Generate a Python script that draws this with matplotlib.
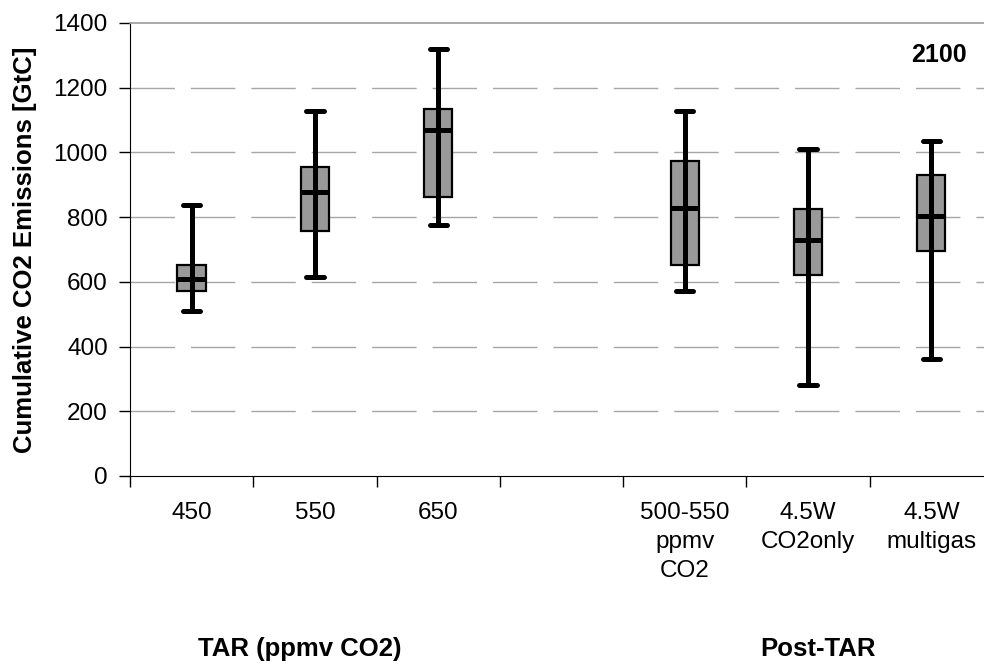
import matplotlib.pyplot as plt

plt.rcParams["font.family"] = ["Liberation Sans", "DejaVu Sans"]
plt.rcParams["lines.scale_dashes"] = False

# Box statistics (GtC), one entry per scenario
labels = ["450", "550", "650", "", "500-550\nppmv\nCO2", "4.5W\nCO2only", "4.5W\nmultigas"]
low = [511, 616, 776, None, 573, 281, 362]
q1 = [573, 758, 861, None, 652, 621, 696]
median = [608, 879, 1069, None, 829, 729, 803]
q3 = [652, 956, 1134, None, 973, 825, 930]
high = [837, 1128, 1320, None, 1128, 1011, 1035]

groups = ["TAR (ppmv CO2)", "Post-TAR"]
yticks = [0, 200, 400, 600, 800, 1000, 1200, 1400]

fig = plt.figure(figsize=(9.84, 6.66), dpi=100)
ax = fig.add_axes([0.1321, 0.2853, 0.877, 0.6802])

centers = [i + 0.5 for i in range(len(labels))]
box_w = 0.23
cap_w = 0.14

for x, lo, a, m, b, hi in zip(centers, low, q1, median, q3, high):
    if lo is None:
        continue
    ax.bar(x, b - a, bottom=a, width=box_w, color="#999999",
           edgecolor="black", linewidth=1.6, zorder=2)
    ax.vlines(x, lo, hi, color="black", linewidth=3.6, zorder=3)
    ax.hlines([lo, hi], x - cap_w / 2, x + cap_w / 2, color="black",
              linewidth=3.6, capstyle="round", zorder=3)
    ax.hlines(m, x - box_w / 2, x + box_w / 2, color="black",
              linewidth=3.6, zorder=4)

ax.set_xlim(0, 7)
ax.set_ylim(0, 1400)
ax.set_yticks(yticks)

# dashed gridlines (not at 0, top one is the frame)
for y in yticks[1:-1]:
    ax.axhline(y, color="#a6a6a6", linewidth=1.0, dashes=(32, 11.5),
               zorder=1)

ax.set_xticks(range(8))
ax.set_xticklabels([])
ax.set_xticks(centers, minor=True)
ax.set_xticklabels(labels, minor=True, fontsize=17.5, linespacing=1.4)
ax.tick_params(axis="x", which="major", direction="out", length=8,
               width=1, color="black")
ax.tick_params(axis="x", which="minor", length=0, pad=19)
ax.tick_params(axis="y", direction="out", length=8, width=1, pad=8,
               labelsize=17.5)

ax.spines["right"].set_visible(False)
ax.spines["top"].set_color("#999999")
ax.spines["top"].set_linewidth(1.2)
ax.spines["left"].set_color("black")
ax.spines["bottom"].set_color("black")

ax.set_ylabel("Cumulative CO2 Emissions [GtC]", fontsize=18.5,
              fontweight="bold")
ax.yaxis.set_label_coords(-0.1078, 0.5)

ax.text(0.97, 0.929, "2100", transform=ax.transAxes, ha="right",
        va="center", fontsize=18, fontweight="bold")

trans = ax.get_xaxis_transform()
ax.text(1.38, -0.382, groups[0], transform=trans, ha="center", va="center",
        fontsize=18.5, fontweight="bold")
ax.text(5.58, -0.382, groups[1], transform=trans, ha="center", va="center",
        fontsize=18.5, fontweight="bold")

fig.savefig("out.png", dpi=100)
